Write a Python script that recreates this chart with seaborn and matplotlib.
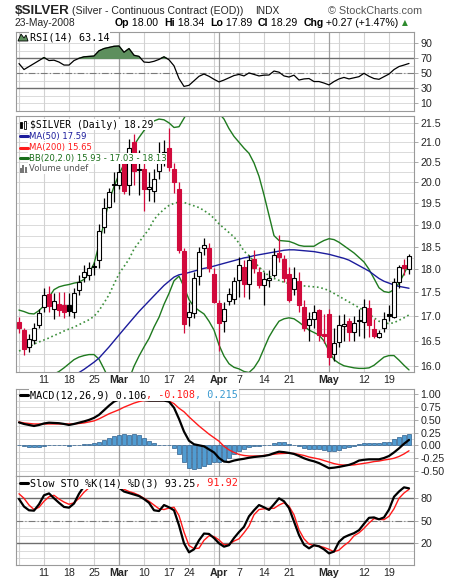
import numpy as np
import pandas as pd
import matplotlib
matplotlib.use("Agg")
import matplotlib.pyplot as plt
import seaborn as sns
from matplotlib.lines import Line2D
from matplotlib.patches import Polygon, Rectangle
from matplotlib.ticker import FixedLocator, FixedFormatter, NullLocator, NullFormatter

sns.set_style("white")
plt.rcParams["font.family"] = ["Liberation Sans", "DejaVu Sans"]

# trading days Feb 4 - May 23 2008 (Good Friday closed)
dates = pd.bdate_range("2008-02-04", "2008-05-23")
dates = dates[dates != pd.Timestamp("2008-03-21")]

# daily candles
opens = [16.88, 16.73, 16.37, 16.51, 16.82, 17.20, 17.46, 17.16, 17.25, 17.23,
         17.23, 17.10, 17.55, 17.84, 17.87, 18.08, 18.20, 18.94, 19.42, 19.93,
         19.95, 20.50, 19.95, 21.00, 20.33, 20.34, 19.85, 19.80, 20.29, 20.60,
         20.86, 20.33, 19.83, 18.41, 16.98, 17.06, 17.85, 18.46, 18.48, 17.89,
         17.27, 16.90, 17.33, 17.37, 17.76, 18.05, 17.69, 18.22, 17.95, 17.67,
         17.77, 17.87, 18.36, 18.23, 17.89, 17.57, 17.74, 17.19, 16.83, 16.95,
         17.13, 16.64, 17.05, 16.25, 16.47, 16.80, 16.91, 16.69, 16.92, 16.88,
         17.18, 16.74, 16.58, 16.76, 17.04, 16.98, 17.73, 18.09, 18.00]
highs = [16.99, 16.76, 16.63, 16.86, 17.16, 17.59, 17.63, 17.48, 17.52, 17.52,
         17.48, 17.59, 17.87, 18.09, 18.16, 18.16, 19.01, 19.62, 19.87, 20.25,
         20.53, 20.62, 21.08, 21.22, 20.80, 20.57, 20.25, 20.33, 21.00, 21.05,
         21.37, 20.49, 20.00, 18.46, 17.30, 17.95, 18.50, 18.70, 18.58, 18.02,
         17.34, 17.30, 17.59, 17.84, 18.27, 18.20, 18.31, 18.43, 18.05, 17.95,
         17.98, 18.46, 18.77, 18.31, 18.05, 18.05, 17.95, 17.34, 17.10, 17.23,
         17.16, 17.05, 17.15, 16.76, 17.03, 17.04, 16.96, 17.00, 17.16, 17.37,
         17.34, 16.95, 16.73, 17.10, 17.23, 17.80, 18.09, 18.22, 18.34]
lows = [16.66, 16.23, 16.29, 16.43, 16.76, 17.10, 17.10, 16.95, 17.00, 16.96,
        17.00, 16.96, 17.44, 17.73, 17.77, 17.87, 18.02, 18.82, 19.38, 19.54,
        19.85, 19.72, 19.69, 19.95, 19.70, 19.32, 19.55, 19.52, 20.08, 20.40,
        20.29, 19.75, 18.35, 16.66, 16.80, 16.96, 17.66, 18.31, 17.95, 17.27,
        16.30, 16.69, 17.23, 17.25, 17.41, 17.41, 17.37, 17.91, 17.59, 17.23,
        17.62, 17.84, 18.16, 17.73, 17.30, 17.44, 17.10, 16.71, 16.49, 16.76,
        16.50, 16.45, 16.02, 16.10, 16.37, 16.50, 16.50, 16.50, 16.60, 16.56,
        16.58, 16.56, 16.55, 16.69, 16.90, 16.96, 17.59, 17.87, 17.89]
closes = [16.76, 16.33, 16.53, 16.76, 17.06, 17.44, 17.22, 17.31, 17.14, 17.10,
          17.11, 17.48, 17.73, 17.94, 18.02, 18.05, 18.86, 19.38, 19.76, 19.97,
          20.25, 19.80, 20.86, 20.29, 20.31, 19.83, 19.88, 20.08, 20.49, 20.75,
          20.37, 20.00, 18.43, 16.84, 17.08, 17.80, 18.39, 18.53, 18.02, 17.29,
          16.86, 17.16, 17.46, 17.74, 18.10, 17.69, 18.20, 18.02, 17.67, 17.79,
          17.82, 18.31, 18.27, 17.80, 17.34, 17.80, 17.23, 16.76, 16.95, 17.10,
          16.62, 16.60, 16.19, 16.45, 16.83, 16.84, 16.68, 16.86, 16.90, 17.20,
          16.82, 16.60, 16.66, 16.95, 17.00, 17.73, 18.04, 18.02, 18.29]
prev_close = 16.95

ma50 = [15.35, 15.38, 15.41, 15.44, 15.48, 15.52, 15.56, 15.60, 15.65, 15.70,
        15.75, 15.81, 15.88, 15.94, 16.01, 16.08, 16.16, 16.27, 16.38, 16.50,
        16.62, 16.74, 16.86, 16.98, 17.10, 17.21, 17.32, 17.43, 17.54, 17.65,
        17.74, 17.83, 17.88, 17.90, 17.93, 17.96, 17.99, 18.02, 18.04, 18.07,
        18.10, 18.13, 18.16, 18.19, 18.22, 18.25, 18.27, 18.30, 18.32, 18.34,
        18.36, 18.38, 18.40, 18.42, 18.43, 18.43, 18.42, 18.41, 18.40, 18.39,
        18.37, 18.35, 18.33, 18.30, 18.27, 18.24, 18.20, 18.14, 18.08, 18.02,
        17.96, 17.88, 17.80, 17.74, 17.70, 17.66, 17.63, 17.61, 17.59]
bb_upper = [17.13, 17.10, 17.06, 17.05, 17.12, 17.22, 17.40, 17.56, 17.62, 17.65,
            17.67, 17.70, 17.72, 17.78, 17.92, 18.12, 18.55, 19.05, 19.55, 19.90,
            20.20, 20.45, 20.70, 20.92, 21.12, 21.30, 21.45, 21.55, 21.60, 21.58,
            21.50, 21.38, 21.40, 21.62, 21.85, 22.00, 22.05, 22.05, 22.00, 21.90,
            21.75, 21.60, 21.35, 21.15, 21.00, 20.85, 20.72, 20.48, 20.15, 19.70,
            19.22, 18.75, 18.64, 18.63, 18.62, 18.58, 18.53, 18.51, 18.51, 18.51,
            18.58, 18.64, 18.68, 18.66, 18.60, 18.52, 18.44, 18.36, 18.26, 18.16,
            18.00, 17.80, 17.60, 17.52, 17.50, 17.56, 17.70, 17.90, 18.13]
bb_mid = [16.30, 16.34, 16.38, 16.44, 16.48, 16.52, 16.56, 16.61, 16.65, 16.70,
          16.74, 16.78, 16.83, 16.88, 16.93, 17.00, 17.12, 17.28, 17.45, 17.68,
          17.90, 18.06, 18.22, 18.45, 18.60, 18.75, 18.90, 19.12, 19.25, 19.36,
          19.45, 19.50, 19.53, 19.52, 19.48, 19.44, 19.40, 19.33, 19.25, 19.15,
          19.02, 18.92, 18.82, 18.72, 18.58, 18.40, 18.30, 18.17, 18.05, 17.95,
          17.85, 17.80, 17.76, 17.72, 17.69, 17.67, 17.65, 17.64, 17.63, 17.62,
          17.61, 17.58, 17.54, 17.48, 17.42, 17.36, 17.30, 17.24, 17.18, 17.12,
          17.05, 16.97, 16.90, 16.87, 16.85, 16.87, 16.92, 16.97, 17.03]
bb_lower = [15.40, 15.45, 15.55, 15.62, 15.70, 15.76, 15.80, 15.85, 15.90, 15.97,
            16.05, 16.13, 16.18, 16.21, 16.23, 16.23, 16.14, 15.95, 15.75, 15.50,
            15.40, 15.45, 15.75, 16.00, 16.20, 16.38, 16.55, 16.78, 16.98, 17.25,
            17.48, 17.75, 17.85, 17.62, 17.35, 17.20, 17.12, 17.05, 16.90, 16.72,
            16.42, 16.20, 16.05, 15.98, 15.95, 15.90, 15.88, 15.97, 16.12, 16.35,
            16.58, 16.75, 16.90, 16.95, 16.97, 16.95, 16.88, 16.80, 16.72, 16.67,
            16.62, 16.50, 16.30, 16.13, 16.06, 16.01, 15.99, 15.97, 15.96, 15.96,
            15.97, 16.02, 16.10, 16.18, 16.21, 16.21, 16.12, 16.02, 15.93]

rsi = [63, 55, 59, 63, 67, 71, 67, 67.5, 65, 61,
       61, 67, 70, 72, 72.5, 73, 80, 83, 84.5, 86,
       86.4, 78, 83, 74, 72.5, 65, 64.5, 66, 68.5, 72,
       68, 60, 43, 32.5, 34, 40, 46, 49, 46, 42,
       38.5, 41, 44, 47, 48.5, 46.5, 50.5, 48.5, 46.5, 47.5,
       47.7, 53, 51.5, 46.5, 45, 47.5, 41, 42.5, 43, 39,
       39, 37, 34.5, 39, 42.5, 44.5, 42.5, 44, 45.5, 50,
       46, 43, 42, 45.5, 49, 55, 59, 61, 63.14]

macd = [0.45, 0.42, 0.40, 0.38, 0.40, 0.43, 0.445, 0.44, 0.435, 0.42,
        0.40, 0.42, 0.445, 0.47, 0.50, 0.54, 0.60, 0.69, 0.78, 0.86,
        0.90, 0.93, 0.97, 0.97, 0.92, 0.89, 0.88, 0.88, 0.88, 0.88,
        0.86, 0.74, 0.52, 0.27, 0.09, 0.02, 0.0, -0.02, -0.08, -0.14,
        -0.25, -0.32, -0.33, -0.30, -0.28, -0.265, -0.245, -0.23, -0.22, -0.21,
        -0.19, -0.155, -0.125, -0.135, -0.15, -0.17, -0.21, -0.255, -0.29, -0.315,
        -0.35, -0.40, -0.45, -0.44, -0.425, -0.405, -0.385, -0.35, -0.30, -0.285,
        -0.276, -0.276, -0.276, -0.25, -0.21, -0.14, -0.06, 0.03, 0.106]
macd_signal = [0.46, 0.44, 0.43, 0.42, 0.42, 0.42, 0.42, 0.42, 0.42, 0.42,
               0.42, 0.42, 0.43, 0.44, 0.46, 0.48, 0.52, 0.57, 0.62, 0.66,
               0.70, 0.75, 0.79, 0.83, 0.86, 0.88, 0.88, 0.88, 0.88, 0.88,
               0.87, 0.82, 0.73, 0.66, 0.56, 0.47, 0.38, 0.30, 0.22, 0.15,
               0.08, -0.02, -0.09, -0.14, -0.18, -0.20, -0.21, -0.21, -0.21, -0.20,
               -0.19, -0.175, -0.165, -0.16, -0.157, -0.16, -0.18, -0.20, -0.23, -0.25,
               -0.27, -0.30, -0.33, -0.36, -0.38, -0.39, -0.39, -0.385, -0.37, -0.355,
               -0.34, -0.32, -0.31, -0.29, -0.275, -0.255, -0.22, -0.17, -0.108]
macd_hist = [0.01, -0.01, -0.03, -0.04, -0.03, -0.01, 0.01, 0.01, 0.01, 0.005,
             -0.01, 0.0, 0.01, 0.02, 0.03, 0.04, 0.06, 0.10, 0.15, 0.19,
             0.21, 0.22, 0.20, 0.22, 0.20, 0.14, 0.09, 0.05, 0.01, 0.01,
             0.0, -0.05, -0.18, -0.33, -0.45, -0.47, -0.44, -0.40, -0.36, -0.33,
             -0.32, -0.30, -0.25, -0.18, -0.12, -0.07, -0.03, -0.01, -0.005, 0.0,
             0.01, 0.04, 0.07, 0.06, 0.02, 0.0, -0.02, -0.05, -0.07, -0.08,
             -0.08, -0.10, -0.11, -0.11, -0.09, -0.06, -0.03, -0.01, 0.02, 0.05,
             0.05, 0.04, 0.04, 0.06, 0.07, 0.12, 0.16, 0.20, 0.215]

sto_k = [79, 69, 64, 63.5, 72, 84, 86.5, 80, 74, 68.5,
         67.5, 73, 86, 96, 99, 100, 100, 100, 99, 97,
         94, 89, 87, 85, 83, 79, 74, 64, 63, 71,
         68, 64, 44, 20, 8, 12, 24, 33, 32.5, 27,
         20, 15.5, 17.5, 27, 35, 42, 56, 64, 71, 68,
         64.5, 72, 80, 76, 67, 49, 31, 18, 13.3, 17.5,
         16, 12, 6.6, 9, 22, 28, 31, 33.5, 37.5, 46,
         54, 54.5, 52, 54.5, 65, 82, 89, 94.6, 93.25]
sto_d = [86, 80, 71, 65, 68, 76, 82, 84, 79, 75,
         72, 74, 80, 88, 94, 98, 100, 100, 99, 98,
         95, 92, 89, 87, 84, 80, 76, 71, 66, 65,
         67, 68, 57, 35, 17, 13, 13.5, 24, 30, 29,
         24.5, 18, 18.5, 23, 26, 34, 43, 58, 65, 66,
         66.5, 66.6, 71, 74, 69.5, 58, 38, 26, 19, 17,
         16.4, 14.5, 12, 8.8, 11, 17, 22, 30, 34, 40,
         47, 53, 52, 51.5, 56, 66, 80, 87, 91.92]

RED = "#d10a3c"
NAVY = "#1c1c9c"
GREEN = "#1f7a1f"
GRID = "#dadada"
MONO = "DejaVu Sans Mono"
W, H = 460, 582

x = np.arange(len(dates))
o, h, l, c = map(np.array, (opens, highs, lows, closes))

# weekly / monthly markers from the dates
mondays = [i for i, d in enumerate(dates) if d.dayofweek == 0]
months = [i for i in range(1, len(dates)) if dates[i].month != dates[i - 1].month]
tick_pos, tick_lab = [], []
for i in sorted(set(mondays[1:]) | set(months)):
    if i in months:
        tick_pos.append(i); tick_lab.append(dates[i].strftime("%b"))
    elif min(abs(i - m) for m in months) > 3:
        tick_pos.append(i); tick_lab.append(str(dates[i].day))

fig = plt.figure(figsize=(W / 100, H / 100), dpi=100)


def box(left, top, right, bottom):
    return [left / W, 1 - bottom / H, (right - left) / W, (bottom - top) / H]


def base(ax, ylim, hgrid):
    ax.set_facecolor("white")
    ax.set_xlim(-0.6, 79.0)
    ax.set_ylim(*ylim)
    for s in ax.spines.values():
        s.set_color("#9a9a9a")
        s.set_linewidth(0.8)
    ax.yaxis.tick_right()
    ax.tick_params(axis="y", which="major", length=3, width=0.6, color="#9a9a9a",
                   pad=1.5, labelsize=7.7)
    ax.tick_params(axis="x", length=0, labelsize=7.7, pad=2.5)
    for g in hgrid:
        ax.axhline(g, color=GRID, lw=0.7, zorder=0)
    for m in mondays:
        ax.axvline(m, color="#d2d2d2", lw=0.8, zorder=0)
    for m in months:
        ax.axvline(m, color="#a0a0a0", lw=0.9, zorder=0)
    ax.set_xticks([])


def xlabels(ax):
    ax.set_xticks(tick_pos)
    ax.set_xticklabels(tick_lab)
    for t in ax.get_xticklabels():
        if not t.get_text().isdigit():
            t.set_fontweight("bold")


# ---- RSI ----
ax_rsi = fig.add_axes(box(16, 32, 414, 111))
base(ax_rsi, (-0.3, 105.1), range(10, 100, 10))
ax_rsi.set_yticks([10, 30, 50, 70, 90])
r = np.array(rsi)
ax_rsi.fill_between(x, r, 70, where=r >= 70, interpolate=True, color="#5d8f5d", zorder=2)
ax_rsi.axhline(70, color="#6e6e6e", lw=1.0, zorder=1)
ax_rsi.axhline(30, color="#6e6e6e", lw=1.0, zorder=1)
ax_rsi.axhline(50, color="#7a7a7a", lw=0.8, dashes=(6, 2, 1, 2), zorder=1)
sns.lineplot(x=x, y=r, ax=ax_rsi, color="black", linewidth=0.9, zorder=3)
ax_rsi.set_ylabel("")

# ---- price ----
ax_px = fig.add_axes(box(16, 116, 414, 372))
ax_px.set_yscale("log")
base(ax_px, (15.89, 21.68), np.arange(16.0, 21.76, 0.25))
pticks = np.arange(16.0, 21.51, 0.5)
ax_px.yaxis.set_major_locator(FixedLocator(pticks))
ax_px.yaxis.set_major_formatter(FixedFormatter([f"{v:.1f}" for v in pticks]))
ax_px.yaxis.set_minor_locator(NullLocator())
ax_px.yaxis.set_minor_formatter(NullFormatter())

sns.lineplot(x=x, y=bb_upper, ax=ax_px, color=GREEN, linewidth=1.0, zorder=2)
sns.lineplot(x=x, y=bb_lower, ax=ax_px, color=GREEN, linewidth=1.0, zorder=2)
sns.lineplot(x=x, y=bb_mid, ax=ax_px, color="#3c8f3c", linewidth=1.2, linestyle=":", zorder=2)
sns.lineplot(x=x, y=ma50, ax=ax_px, color=NAVY, linewidth=1.0, zorder=2)

pc = np.concatenate([[prev_close], c[:-1]])
edge = np.where(c < pc, RED, "black")
face = np.where(c > o, "white", edge)
ax_px.vlines(x, l, h, colors=edge, lw=0.9, zorder=3)
ax_px.bar(x, np.maximum(np.abs(c - o), 0.015), bottom=np.minimum(o, c), width=0.72,
          color=face, edgecolor=edge, linewidth=0.8, zorder=4)
ax_px.set_ylabel("")
xlabels(ax_px)

# ---- MACD ----
ax_macd = fig.add_axes(box(16, 389, 414, 476))
base(ax_macd, (-0.604, 1.108), np.arange(-0.5, 1.01, 0.125))
ax_macd.set_yticks([1.0, 0.75, 0.5, 0.25, 0.0, -0.25, -0.5])
ax_macd.set_yticklabels(["1.00", "0.75", "0.50", "0.25", "0.00", "-0.25", "-0.50"])
ax_macd.bar(x, macd_hist, width=0.8, color="#509cd2", edgecolor="#2d5e8c", linewidth=0.5, zorder=2)
sns.lineplot(x=x, y=macd_signal, ax=ax_macd, color="#ff1a1a", linewidth=1.0, zorder=3)
sns.lineplot(x=x, y=macd, ax=ax_macd, color="black", linewidth=1.6, zorder=4)
ax_macd.set_ylabel("")

# ---- Slow stochastic ----
ax_sto = fig.add_axes(box(16, 476, 414, 565))
base(ax_sto, (-8.9, 109.7), range(0, 101, 10))
ax_sto.set_yticks([20, 50, 80])
ax_sto.axhline(80, color="#6e6e6e", lw=1.0, zorder=1)
ax_sto.axhline(20, color="#6e6e6e", lw=1.0, zorder=1)
ax_sto.axhline(50, color="#7a7a7a", lw=0.8, dashes=(6, 2, 1, 2), zorder=1)
sns.lineplot(x=x, y=sto_d, ax=ax_sto, color="#ff1a1a", linewidth=1.0, zorder=3)
sns.lineplot(x=x, y=sto_k, ax=ax_sto, color="black", linewidth=1.6, zorder=4)
ax_sto.set_ylabel("")
xlabels(ax_sto)

# ---- texts ----
renderer = fig.canvas.get_renderer()


def row(xp, yp, parts, size=7.3, family=MONO, bg=True):
    for s, col, wt in parts:
        t = fig.text(xp / W, 1 - yp / H, s, color=col, fontsize=size, family=family,
                     fontweight=wt, va="center", ha="left", zorder=10,
                     bbox=dict(fc="white", ec="none", pad=0.4) if bg else None)
        xp += t.get_window_extent(renderer).width
    return xp


def dash(yp, col):
    fig.add_artist(Line2D([20 / W, 28 / W], [1 - yp / H] * 2, color=col, lw=2.2,
                          transform=fig.transFigure, zorder=11))


fig.text(15 / W, 1 - 10.5 / H, "$SILVER", fontsize=9.6, fontweight="bold", va="center")
fig.text(72 / W, 1 - 10.5 / H, "(Silver - Continuous Contract (EOD))", fontsize=7.6, va="center")
fig.text(255 / W, 1 - 10.5 / H, "INDX", fontsize=7.3, va="center")
fig.text(328 / W, 1 - 10.5 / H, "© StockCharts.com", fontsize=7.8, color="#555555", va="center")
fig.text(15 / W, 1 - 23.5 / H, "23-May-2008", fontsize=7.4, va="center")
end = row(115, 23.5, [("Op", "black", "bold"), (" 18.00  ", "black", "normal"),
                      ("Hi", "black", "bold"), (" 18.34  ", "black", "normal"),
                      ("Lo", "black", "bold"), (" 17.89  ", "black", "normal"),
                      ("Cl", "black", "bold"), (" 18.29  ", "black", "normal"),
                      ("Chg", "black", "bold"), (" +0.27 (+1.47%) ", "black", "normal")],
          size=7.6, family="Liberation Sans", bg=False)
fig.text(end / W, 1 - 23 / H, "▲", fontsize=5.5, color="#2e8b2e", family="DejaVu Sans", va="center")

# RSI legend and icon
fig.add_artist(Polygon([[18 / W, 1 - 41 / H], [21 / W, 1 - 34 / H], [24 / W, 1 - 38 / H],
                        [26 / W, 1 - 35 / H], [28 / W, 1 - 41 / H]], closed=True,
                       fc="#5d8f5d", ec="black", lw=0.6, transform=fig.transFigure, zorder=11))
row(30, 37, [("RSI(14) 63.14", "black", "normal")])

# price legend
for bx, by, bh, fc in [(20, 122, 6, "black"), (23.5, 121, 8, "white")]:
    fig.add_artist(Rectangle((bx / W, 1 - (by + bh) / H), 2.5 / W, bh / H, fc=fc, ec="black",
                             lw=0.6, transform=fig.transFigure, zorder=11))
row(30, 124.5, [("$SILVER (Daily) 18.29", "black", "normal")], size=7.0)
dash(136, NAVY)
row(29, 136, [("MA(50) 17.59", NAVY, "normal")], size=6.1, family="DejaVu Sans")
dash(147.5, "#ff1a1a")
row(29, 147.5, [("MA(200) 15.65", "#ff1a1a", "normal")], size=6.1, family="DejaVu Sans")
dash(158.5, "#1a6e1a")
row(29, 158.5, [("BB(20,2.0) 15.93 - 17.03 - 18.13", "#1a6e1a", "normal")], size=6.1,
    family="DejaVu Sans")
for bx, bh in [(20, 5), (22.5, 8), (25, 6)]:
    fig.add_artist(Rectangle((bx / W, 1 - 172.5 / H), 2 / W, bh / H, fc="#777777", ec="none",
                             transform=fig.transFigure, zorder=11))
row(29, 168.5, [("Volume undef", "#555555", "normal")], size=6.1, family="DejaVu Sans")

# MACD legend
dash(395, "black")
row(30, 395, [("MACD(12,26,9) 0.106", "black", "normal"), (", -0.108", "#ff1a1a", "normal"),
              (", 0.215", "#3a9ad0", "normal")])
# STO legend
dash(483, "black")
row(30, 483, [("Slow STO %K(14) %D(3) 93.25", "black", "normal"), (", 91.92", "#ff1a1a", "normal")])

fig.savefig("out.png", dpi=100)
